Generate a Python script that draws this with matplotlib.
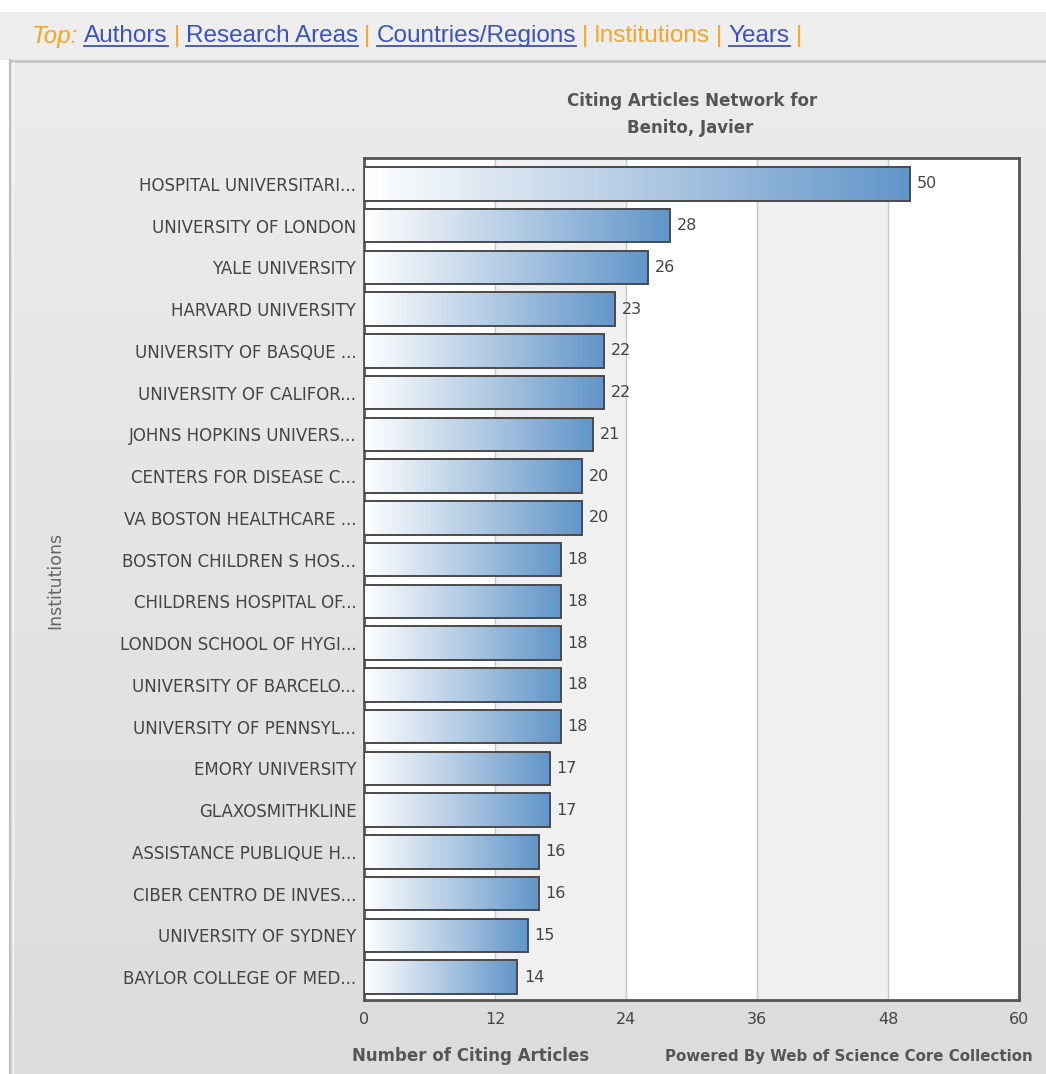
import matplotlib
matplotlib.use("Agg")
import matplotlib.pyplot as plt
import numpy as np
from matplotlib.colors import LinearSegmentedColormap
from matplotlib.patches import Rectangle

# institutions (top to bottom) and number of citing articles
institutions = [
    "HOSPITAL UNIVERSITARI...", "UNIVERSITY OF LONDON", "YALE UNIVERSITY",
    "HARVARD UNIVERSITY", "UNIVERSITY OF BASQUE ...", "UNIVERSITY OF CALIFOR...",
    "JOHNS HOPKINS UNIVERS...", "CENTERS FOR DISEASE C...", "VA BOSTON HEALTHCARE ...",
    "BOSTON CHILDREN S HOS...", "CHILDRENS HOSPITAL OF...", "LONDON SCHOOL OF HYGI...",
    "UNIVERSITY OF BARCELO...", "UNIVERSITY OF PENNSYL...", "EMORY UNIVERSITY",
    "GLAXOSMITHKLINE", "ASSISTANCE PUBLIQUE H...", "CIBER CENTRO DE INVES...",
    "UNIVERSITY OF SYDNEY", "BAYLOR COLLEGE OF MED...",
]
citing_counts = [50, 28, 26, 23, 22, 22, 21, 20, 20, 18, 18, 18, 18, 18, 17, 17, 16, 16, 15, 14]
x_ticks = [0, 12, 24, 36, 48, 60]

nav_items = [
    ("Top:", "top"), ("Authors", "link"), ("|", "sep"),
    ("Research Areas", "link"), ("|", "sep"), ("Countries/Regions", "link"), ("|", "sep"),
    ("Institutions", "current"), ("|", "sep"), ("Years", "link"), ("|", "sep"),
]

plt.rcParams['font.family'] = ['DejaVu Sans']

W, H = 1046, 1074
fig = plt.figure(figsize=(W / 100, H / 100), dpi=100)
fig.patch.set_facecolor("white")

# background: nav strip and grey panel
bg = fig.add_axes([0, 0, 1, 1], zorder=0)
bg.axis("off")
bg.add_patch(Rectangle((0, 12), W, 48, color="#eeeeee", lw=0))
panel = np.linspace(0, 1, 256).reshape(-1, 1)
panel_cmap = LinearSegmentedColormap.from_list("panel", ["#ececec", "#dcdcdc"])
bg.imshow(panel, cmap=panel_cmap, extent=[10, W, H, 60], aspect="auto")
bg.plot([10, W], [60.5, 60.5], color="#c4c4c4", lw=2)
bg.plot([10, 10], [60, H], color="#bdbdbd", lw=1.5)
bg.plot([13, 13], [62, H], color="#f7f7f7", lw=1)
bg.set_xlim(0, W)
bg.set_ylim(H, 0)

ax = fig.add_axes([364 / W, 74 / H, 655 / W, 842 / H], zorder=2)
ypos = np.arange(len(institutions))

# alternating column bands + grid
for i in range(len(x_ticks) - 1):
    ax.axvspan(x_ticks[i], x_ticks[i + 1], color="white" if i % 2 == 0 else "#f0f0f0", lw=0, zorder=0)
for t in x_ticks[1:-1]:
    ax.axvline(t, color="#c8c8c8", lw=1, zorder=1)

bars = ax.barh(ypos, citing_counts, height=0.8, facecolor="none",
               edgecolor="#4a4a4a", lw=1.4, zorder=4)

bar_cmap = LinearSegmentedColormap.from_list("bar", ["#ffffff", "#b3cbe4", "#6195c9"])
grad = np.linspace(0, 1, 256).reshape(1, -1)
for b in bars:
    x0, y0 = b.get_x(), b.get_y()
    im = ax.imshow(grad, cmap=bar_cmap, extent=[x0, x0 + b.get_width(), y0 + b.get_height(), y0],
                   aspect="auto", zorder=3)
    im.set_clip_path(b)

ax.bar_label(bars, padding=5, color="#444444", fontsize=11.5)

ax.set_xlim(0, 60)
ax.set_ylim(19.55, -0.62)
ax.set_xticks(x_ticks)
ax.set_yticks(ypos)
ax.set_yticklabels(institutions)
ax.tick_params(axis="both", length=0, colors="#444444")
ax.tick_params(axis="y", pad=5.5, labelsize=12)
ax.tick_params(axis="x", pad=9, labelsize=11.5)
for sp in ax.spines.values():
    sp.set_color("#555555")
    sp.set_linewidth(2)
ax.set_facecolor("white")

fig.text(55 / W, 1 - 580 / H, "Institutions", rotation=90, ha="center", va="center",
         color="#666666", fontsize=12.5)

fig.text(692 / W, 1 - 101 / H, "Citing Articles Network for", ha="center", va="center",
         color="#555555", fontsize=12, fontweight="bold")
fig.text(690 / W, 1 - 128 / H, "Benito, Javier", ha="center", va="center",
         color="#555555", fontsize=12, fontweight="bold")

fig.text(352 / W, 1 - 1056 / H, "Number of Citing Articles", ha="left", va="center",
         color="#555555", fontsize=12, fontweight="bold")
# the reference runs this off the right edge; shrink a bit so it stays readable
fig.text(665 / W, 1 - 1056 / H, "Powered By Web of Science Core Collection", ha="left",
         va="center", color="#555555", fontsize=10.8, fontweight="bold")

# nav bar, laid out piece by piece
fig.canvas.draw()
renderer = fig.canvas.get_renderer()
colors = {"top": "#f5a623", "sep": "#f5a623", "current": "#f5a623", "link": "#3a52c6"}
x = 32
ny = 1 - 36 / H
for text, kind in nav_items:
    t = fig.text(x / W, ny, text, ha="left", va="center", fontsize=17.5,
                 family="Liberation Sans",
                 color=colors[kind], style="italic" if kind == "top" else "normal")
    bb = t.get_window_extent(renderer)
    if kind == "link":
        fig.add_artist(plt.Line2D([bb.x0 / W, bb.x1 / W], [(bb.y0 + 1) / H] * 2,
                                  color=colors[kind], lw=1.3, transform=fig.transFigure))
    x = bb.x1 + 6

fig.savefig("out.png", dpi=100, facecolor=fig.get_facecolor())
